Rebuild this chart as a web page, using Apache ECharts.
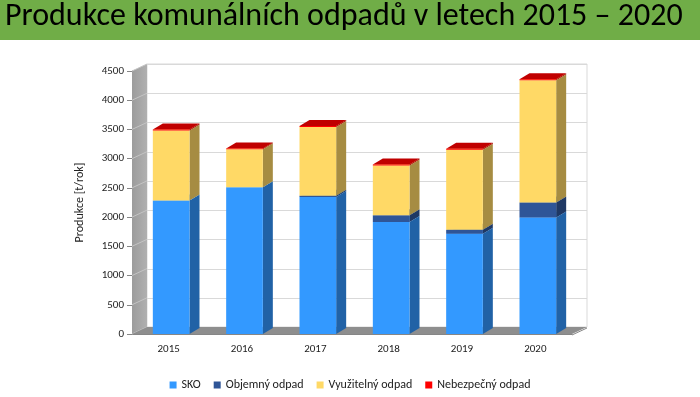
<!DOCTYPE html>
<html>
<head>
<meta charset="utf-8">
<script src="https://cdn.jsdelivr.net/npm/echarts@6/dist/echarts.min.js"></script>
<style>
  html, body { margin: 0; padding: 0; background: #fff; }
  #chart { width: 700px; height: 397px; }
</style>
</head>
<body>
<div id="chart"></div>
<script>
// data
var years = ['2015', '2016', '2017', '2018', '2019', '2020'];
var sko = [2286, 2509, 2345, 1916, 1716, 1995];
var objemny = [0, 0, 22, 114, 69, 257];
var vyuzitelny = [1198, 650, 1175, 855, 1369, 2088];
var nebezpecny = [15, 15, 15, 15, 15, 20];
var yTicks = [0, 500, 1000, 1500, 2000, 2500, 3000, 3500, 4000, 4500];

var seriesNames = ['SKO', 'Objemný odpad', 'Využitelný odpad', 'Nebezpečný odpad'];
var seriesValues = [sko, objemny, vyuzitelny, nebezpecny];
// front / side / top colours of the boxes
var faceColors = [
  ['#3399FF', '#2162A6', '#66B3FF'],
  ['#2F5597', '#1F3864', '#3C66AA'],
  ['#FFD966', '#A68C42', '#FFE699'],
  ['#FF0000', '#A00000', '#C00000']
];

// 3d offsets: walls and bars
var wallDx = 15, wallDy = -7;
var barDx = 10, barDy = -6;

var chart = echarts.init(document.getElementById('chart'));

function wallRender(params, api) {
  var cs = params.coordSys;
  var x0 = cs.x, x1 = cs.x + cs.width;
  var yTop = cs.y, yBot = cs.y + cs.height;
  var children = [];
  // back wall
  children.push({
    type: 'rect',
    shape: { x: x0 + wallDx, y: yTop + wallDy, width: cs.width, height: cs.height },
    style: { fill: '#fff', stroke: '#D9D9D9', lineWidth: 1 }
  });
  // grid lines on the back wall
  yTicks.forEach(function (v) {
    var y = Math.round(api.coord([0, v])[1] + wallDy) + 0.5;
    children.push({
      type: 'line',
      shape: { x1: x0 + wallDx, y1: y, x2: x1 + wallDx, y2: y },
      style: { stroke: '#D9D9D9', lineWidth: 1 }
    });
  });
  // left side wall
  children.push({
    type: 'polygon',
    shape: { points: [[x0, yTop], [x0 + wallDx, yTop + wallDy], [x0 + wallDx, yBot + wallDy], [x0, yBot]] },
    style: {
      fill: new echarts.graphic.LinearGradient(0, 0, 1, 0, [
        { offset: 0, color: '#9C9C9C' }, { offset: 1, color: '#B0B0B0' }
      ])
    }
  });
  yTicks.forEach(function (v) {
    var y = api.coord([0, v])[1];
    children.push({
      type: 'line',
      shape: { x1: x0, y1: y, x2: x0 + wallDx, y2: y + wallDy },
      style: { stroke: '#C4C4C4', lineWidth: 1 }
    });
  });
  // floor
  children.push({
    type: 'polygon',
    shape: { points: [[x0, yBot], [x0 + wallDx, yBot + wallDy], [x1 + wallDx, yBot + wallDy], [x1, yBot]] },
    style: { fill: '#8E8E8E' }
  });
  children.push({
    type: 'line',
    shape: { x1: x1, y1: yBot + 1, x2: x1 + wallDx, y2: yBot + wallDy + 1 },
    style: { stroke: '#868686', lineWidth: 1 }
  });
  return { type: 'group', children: children };
}

function makeBoxRender(colors) {
  return function (params, api) {
    var idx = api.value(0), lo = api.value(1), hi = api.value(2);
    if (hi - lo <= 0) return;
    var bw = api.size([1, 0])[0] * 0.5;
    var pLo = api.coord([idx, lo]);
    var pHi = api.coord([idx, hi]);
    var x = pLo[0] - bw / 2 + 2.5;
    var yb = pLo[1], yt = pHi[1];
    return {
      type: 'group',
      children: [
        {
          type: 'polygon',
          shape: { points: [[x + bw, yt], [x + bw + barDx, yt + barDy], [x + bw + barDx, yb + barDy], [x + bw, yb]] },
          style: { fill: colors[1] }
        },
        {
          type: 'polygon',
          shape: { points: [[x, yt], [x + barDx, yt + barDy], [x + bw + barDx, yt + barDy], [x + bw, yt]] },
          style: { fill: colors[2] }
        },
        {
          type: 'rect',
          shape: { x: x, y: yt, width: bw, height: yb - yt },
          style: { fill: colors[0] }
        }
      ]
    };
  };
}

// stack the layers
var base = years.map(function () { return 0; });
var barSeries = seriesNames.map(function (name, s) {
  var data = years.map(function (y, i) {
    var lo = base[i];
    var hi = lo + seriesValues[s][i];
    base[i] = hi;
    return [i, lo, hi];
  });
  return {
    type: 'custom',
    name: name,
    z: 3,
    itemStyle: { color: faceColors[s][0] },
    renderItem: makeBoxRender(faceColors[s]),
    encode: { x: 0, y: [1, 2] },
    data: data
  };
});

var font = 'Carlito, "Open Sans", sans-serif';

chart.setOption({
  animation: false,
  graphic: [
    { type: 'rect', left: 0, top: 0, shape: { width: 700, height: 40 }, style: { fill: '#70AD47' }, z: 0 },
    {
      type: 'text', left: 5, top: 1, z: 1,
      style: { text: 'Produkce komunálních odpadů v letech 2015 – 2020', fill: '#000', fontSize: 32, fontFamily: font }
    }
  ],
  grid: { left: 132, right: 128, top: 71, bottom: 63 },
  legend: {
    data: seriesNames,
    bottom: 1,
    left: 'center',
    icon: 'rect',
    itemWidth: 7,
    itemHeight: 7,
    itemGap: 13,
    textStyle: { fontSize: 12, color: '#222', fontFamily: font }
  },
  xAxis: {
    type: 'category',
    data: years,
    axisLine: { lineStyle: { color: '#868686' } },
    axisTick: { length: 5, lineStyle: { color: '#868686' } },
    axisLabel: { fontSize: 11, color: '#222', margin: 10, fontFamily: font }
  },
  yAxis: {
    type: 'value',
    min: 0,
    max: 4500,
    interval: 500,
    name: 'Produkce [t/rok]',
    nameLocation: 'middle',
    nameGap: 46,
    nameTextStyle: { fontSize: 12, color: '#222', fontFamily: font },
    axisLine: { show: true, lineStyle: { color: '#868686' } },
    axisTick: { show: true, length: 5, lineStyle: { color: '#868686' } },
    splitLine: { show: false },
    axisLabel: { fontSize: 11, color: '#222', margin: 8, fontFamily: font, formatter: function (v) { return String(v); } }
  },
  series: [{
    type: 'custom',
    z: 1,
    silent: true,
    renderItem: wallRender,
    encode: { x: 0, y: 1 },
    data: [[0, 0]]
  }].concat(barSeries)
});
</script>
</body>
</html>
